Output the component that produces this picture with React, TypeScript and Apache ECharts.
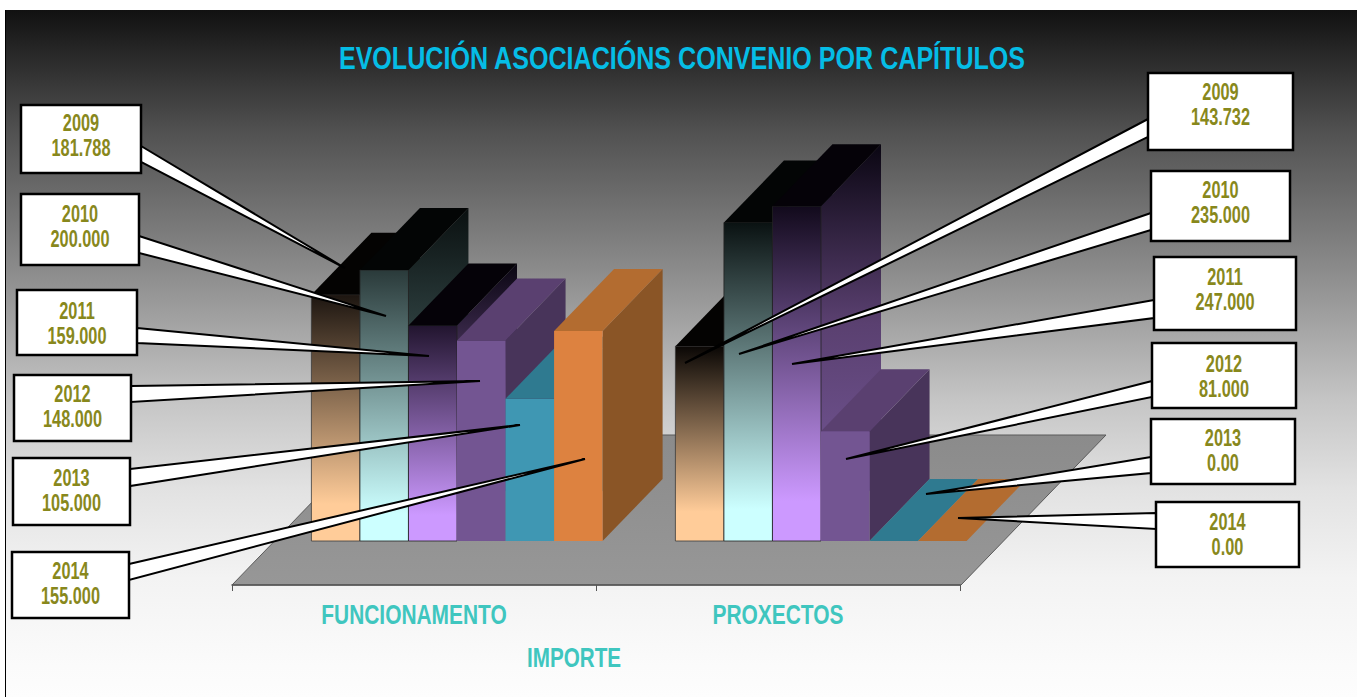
import React, { useEffect, useRef } from "react";
import * as echarts from "echarts";

const title = "EVOLUCIÓN ASOCIACIÓNS CONVENIO POR CAPÍTULOS";
const axisTitle = "IMPORTE";
const categories = ["FUNCIONAMENTO", "PROXECTOS"];
const years = ["2009", "2010", "2011", "2012", "2013", "2014"];
const values2009 = [181788, 143732];
const values2010 = [200000, 235000];
const values2011 = [159000, 247000];
const values2012 = [148000, 81000];
const values2013 = [105000, 0];
const values2014 = [155000, 0];
const seriesValues = [values2009, values2010, values2011, values2012, values2013, values2014];
const funcLabels = ["181.788", "200.000", "159.000", "148.000", "105.000", "155.000"];
const proxLabels = ["143.732", "235.000", "247.000", "81.000", "0.00", "0.00"];

// box [x0, y0, x1, y1], wedge base y a, y b on the box side, wedge tip x, y, text centre y
const funcCallouts = [
  [21, 105, 141, 173, 146, 162, 345, 268, 135],
  [21, 194, 139, 265, 236, 253, 386, 316, 226],
  [17, 290, 137, 355, 328, 343, 429, 356, 323],
  [14, 375, 131, 441, 386, 402, 480, 381, 406.5],
  [13, 458, 130, 525, 469, 486, 520, 425, 490.5],
  [12, 552, 129, 618, 564, 580, 585, 459, 583.5],
];
const proxCallouts = [
  [1148, 73, 1293, 150, 119, 137, 685, 363, 104],
  [1151, 171, 1290, 241, 213, 230, 739, 354, 202],
  [1154, 257, 1296, 330, 300, 318, 792, 364, 289.5],
  [1152, 343, 1296, 408, 381, 397, 846, 459, 376],
  [1151, 419, 1295, 484, 457, 473, 926, 494, 450],
  [1156, 502, 1299, 567, 513, 529, 958, 518, 534],
];

const FONT = '"Liberation Sans", Arial, sans-serif';
const DX = 60;
const DY = -62;
const BAR_SHIFT = 43;

type Face = { top: any; right: any; border: string | null };
const vgrad = (stops: [number, string][]) =>
  new echarts.graphic.LinearGradient(0, 0, 0, 1, stops.map(([offset, color]) => ({ offset, color })));

const frontFor = (s: number, c: number): any => {
  if (s === 0) return vgrad([[0, c === 0 ? "#1c1510" : "#0a0705"], [0.85, "#FFCC99"], [1, "#FFCC99"]]);
  if (s === 1) return vgrad([[0, c === 0 ? "#2a3a3a" : "#0a1212"], [0.9, "#CCFFFF"], [1, "#CCFFFF"]]);
  if (s === 2) return vgrad([[0, c === 0 ? "#22152f" : "#120a1c"], [0.88, "#CC99FF"], [1, "#CC99FF"]]);
  return ["", "", "", "#735592", "#3F97B3", "#DD8240"][s];
};
const faces: Face[] = [
  { top: "#040302", right: vgrad([[0, "#080604"], [1, "#6b533c"]]), border: "#3a3a3a" },
  { top: "#030505", right: vgrad([[0, "#0a1010"], [0.5, "#3a5050"], [1, "#6e8a8a"]]), border: "#222" },
  { top: "#050208", right: vgrad([[0, "#0a0612"], [0.45, "#5a4070"], [1, "#7a5ca0"]]), border: "#222" },
  { top: "#5A4070", right: "#48345A", border: null },
  { top: "#2F7A90", right: "#2F7A90", border: null },
  { top: "#B36C30", right: "#8A5526", border: null },
];

const barSeries = (s: number) => ({
  type: "custom",
  coordinateSystem: "cartesian2d",
  name: years[s],
  z: 3,
  clip: false,
  silent: true,
  encode: { x: 0, y: 1 },
  data: seriesValues[s].map((v, i) => [i, v]),
  renderItem: (_p: any, api: any) => {
    const cat = api.value(0);
    const [cx, y0] = api.coord([cat, 0]);
    const y1 = api.coord([cat, api.value(1)])[1];
    const band = api.size([1, 0])[0];
    const w = (band * 0.8) / 6;
    const xl = cx + BAR_SHIFT - band * 0.4 + s * w;
    const xr = xl + w;
    const f = faces[s];
    const children: any[] = [];
    if (y0 - y1 > 0.5) {
      children.push({
        type: "polygon",
        shape: { points: [[xr, y0], [xr + DX, y0 + DY], [xr + DX, y1 + DY], [xr, y1]] },
        style: { fill: f.right },
      });
      children.push({
        type: "polygon",
        shape: { points: [[xl, y0], [xr, y0], [xr, y1], [xl, y1]] },
        style: { fill: frontFor(s, cat), stroke: f.border || undefined, lineWidth: f.border ? 0.8 : 0 },
      });
    }
    children.push({
      type: "polygon",
      shape: { points: [[xl, y1], [xr, y1], [xr + DX, y1 + DY], [xl + DX, y1 + DY]] },
      style: { fill: f.top },
    });
    return { type: "group", children };
  },
});

const categoryLabelSeries = {
  type: "custom",
  coordinateSystem: "cartesian2d",
  z: 4,
  clip: false,
  silent: true,
  encode: { x: 0, y: 1 },
  data: categories.map((_, i) => [i, 0]),
  renderItem: (_p: any, api: any) => {
    const i = api.value(0);
    const [cx, y0] = api.coord([i, 0]);
    return {
      type: "text",
      x: cx,
      y: y0 + 73,
      scaleX: 0.775,
      style: {
        text: categories[i],
        fill: "#3FC6BF",
        font: `bold 27px ${FONT}`,
        align: "center",
        verticalAlign: "middle",
      },
    };
  },
};

const callout = (c: number[], year: string, label: string, side: "l" | "r") => {
  const [x0, y0, x1, y1, a, b, tx, ty, textY] = c;
  const base = side === "l" ? x1 : x0;
  return [
    {
      type: "polygon",
      z: 10,
      shape: { points: [[base, a], [tx, ty], [base, b]] },
      style: { fill: "#fff", stroke: "#000", lineWidth: 2 },
    },
    {
      type: "rect",
      z: 11,
      shape: { x: x0, y: y0, width: x1 - x0, height: y1 - y0 },
      style: { fill: "#fff", stroke: "#000", lineWidth: 2.5 },
    },
    {
      type: "text",
      z: 12,
      x: (x0 + x1) / 2,
      y: textY,
      scaleX: 0.71,
      style: {
        text: `${year}\n${label}`,
        fill: "#88881C",
        font: `bold 23px ${FONT}`,
        lineHeight: 25,
        align: "center",
        verticalAlign: "middle",
      },
    },
  ];
};

export default function App() {
  const ref = useRef<HTMLDivElement>(null);
  useEffect(() => {
    const chart = echarts.init(ref.current!, undefined, { renderer: "svg" });
    chart.setOption({
      animation: false,
      backgroundColor: "#ffffff",
      grid: { left: 232, width: 728, top: 134.5, height: 406.5 },
      xAxis: {
        type: "category",
        data: categories,
        offset: 44,
        z: 4,
        axisLine: { show: true, onZero: false, lineStyle: { color: "#555", width: 1.5 } },
        axisTick: { show: true, length: 6, lineStyle: { color: "#555", width: 1 } },
        axisLabel: { show: false },
        splitLine: { show: false },
      },
      yAxis: { type: "value", min: 0, max: 300000, show: false, splitLine: { show: false } },
      graphic: [
        {
          type: "rect",
          z: 0,
          shape: { x: 5, y: 10, width: 1352, height: 687 },
          style: {
            fill: new echarts.graphic.LinearGradient(0, 0, 0, 1, [
              { offset: 0, color: "#111111" },
              { offset: 0.18, color: "#525252" },
              { offset: 0.374, color: "#8a8a8a" },
              { offset: 0.568, color: "#c5c5c5" },
              { offset: 0.697, color: "#e2e2e2" },
              { offset: 0.827, color: "#f3f3f3" },
              { offset: 0.956, color: "#fbfbfb" },
              { offset: 1, color: "#fdfdfd" },
            ]),
          },
        },
        {
          type: "line",
          z: 1,
          shape: { x1: 5.5, y1: 10, x2: 5.5, y2: 697 },
          style: { stroke: "#000", lineWidth: 1 },
        },
        {
          type: "polygon",
          z: 1,
          shape: { points: [[232, 585], [961, 585], [1106, 435], [377, 435]] },
          style: {
            fill: new echarts.graphic.LinearGradient(0, 0, 0, 1, [
              { offset: 0, color: "#8b8b8b" },
              { offset: 1, color: "#979797" },
            ]),
            stroke: "#5a5a5a",
            lineWidth: 1,
          },
        },
        {
          type: "text",
          z: 5,
          x: 682,
          y: 58,
          scaleX: 0.784,
          style: {
            text: title,
            fill: "#05BDE6",
            font: `bold 32px ${FONT}`,
            align: "center",
            verticalAlign: "middle",
          },
        },
        {
          type: "text",
          z: 5,
          x: 574,
          y: 657,
          scaleX: 0.765,
          style: {
            text: axisTitle,
            fill: "#3FC6BF",
            font: `bold 27px ${FONT}`,
            align: "center",
            verticalAlign: "middle",
          },
        },
        ...funcCallouts.flatMap((c, i) => callout(c, years[i], funcLabels[i], "l")),
        ...proxCallouts.flatMap((c, i) => callout(c, years[i], proxLabels[i], "r")),
      ],
      series: [...years.map((_, s) => barSeries(s)), categoryLabelSeries],
    });
    return () => chart.dispose();
  }, []);
  return <div ref={ref} style={{ position: "absolute", left: 0, top: 0, width: 1357, height: 697 }} />;
}
